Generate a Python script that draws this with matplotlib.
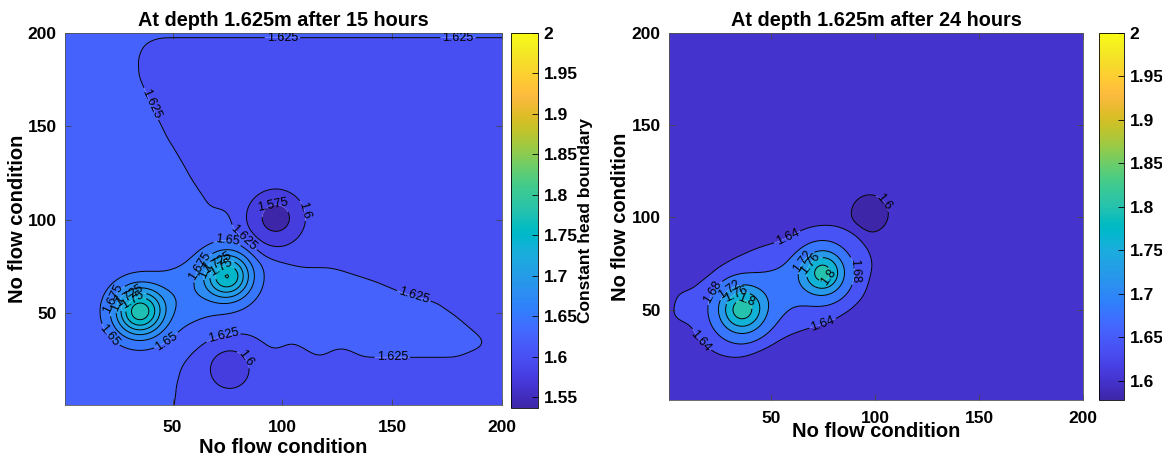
import numpy as np
import matplotlib
matplotlib.use("Agg")
import matplotlib.pyplot as plt
from matplotlib.colors import LinearSegmentedColormap, Normalize
from matplotlib.cm import ScalarMappable
from matplotlib.path import Path

plt.rcParams['font.family'] = ['Liberation Sans', 'DejaVu Sans']

# ---------------- parula colormap (MATLAB) ----------------
parula_rgb = [
    [0.2422, 0.1504, 0.6603], [0.2504, 0.1650, 0.7076], [0.2578, 0.1818, 0.7511], [0.2647, 0.1978, 0.7952],
    [0.2706, 0.2147, 0.8364], [0.2751, 0.2342, 0.8710], [0.2783, 0.2559, 0.8991], [0.2803, 0.2782, 0.9221],
    [0.2813, 0.3006, 0.9414], [0.2810, 0.3228, 0.9579], [0.2795, 0.3447, 0.9717], [0.2760, 0.3667, 0.9829],
    [0.2699, 0.3892, 0.9906], [0.2602, 0.4123, 0.9952], [0.2440, 0.4358, 0.9988], [0.2206, 0.4603, 0.9973],
    [0.1963, 0.4847, 0.9892], [0.1834, 0.5074, 0.9798], [0.1786, 0.5289, 0.9682], [0.1764, 0.5499, 0.9520],
    [0.1687, 0.5703, 0.9359], [0.1540, 0.5902, 0.9218], [0.1460, 0.6091, 0.9079], [0.1380, 0.6276, 0.8973],
    [0.1248, 0.6459, 0.8883], [0.1113, 0.6635, 0.8763], [0.0952, 0.6798, 0.8598], [0.0689, 0.6948, 0.8394],
    [0.0297, 0.7082, 0.8163], [0.0036, 0.7203, 0.7917], [0.0067, 0.7312, 0.7660], [0.0433, 0.7411, 0.7394],
    [0.0964, 0.7500, 0.7120], [0.1408, 0.7584, 0.6842], [0.1717, 0.7670, 0.6554], [0.1938, 0.7758, 0.6251],
    [0.2161, 0.7843, 0.5923], [0.2470, 0.7918, 0.5567], [0.2906, 0.7973, 0.5188], [0.3406, 0.8008, 0.4789],
    [0.3909, 0.8029, 0.4354], [0.4456, 0.8024, 0.3909], [0.5044, 0.7993, 0.3480], [0.5616, 0.7942, 0.3045],
    [0.6174, 0.7876, 0.2612], [0.6720, 0.7793, 0.2227], [0.7242, 0.7698, 0.1910], [0.7738, 0.7598, 0.1646],
    [0.8203, 0.7498, 0.1535], [0.8634, 0.7406, 0.1596], [0.9035, 0.7330, 0.1774], [0.9393, 0.7288, 0.2100],
    [0.9728, 0.7298, 0.2394], [0.9956, 0.7434, 0.2371], [0.9970, 0.7659, 0.2199], [0.9952, 0.7893, 0.2028],
    [0.9892, 0.8136, 0.1885], [0.9786, 0.8386, 0.1766], [0.9676, 0.8639, 0.1643], [0.9610, 0.8890, 0.1537],
    [0.9597, 0.9135, 0.1423], [0.9628, 0.9373, 0.1265], [0.9691, 0.9606, 0.1064], [0.9769, 0.9839, 0.0805]]
cmap = LinearSegmentedColormap.from_list("parula", parula_rgb, N=256)

# ---------------- text ----------------
titles = ["At depth 1.625m after 15 hours", "At depth 1.625m after 24 hours"]
axis_label = "No flow condition"
cbar_label = "Constant head boundary"
axis_ticks = [50, 100, 150, 200]

# ---------------- grid ----------------
grid_x = np.arange(1, 201)
grid_y = np.arange(1, 201)

# ---------------- left panel (15 h) ----------------
left_base = 1.612      # head outside the plume
left_plateau = 1.638   # head inside the plume
# outline of the 1.625 m contour (plume)
left_plume_x = [-20, 230, 230, 44, 37, 34, 35, 38, 43, 48, 54, 58, 62, 66, 68, 72, 76, 78, 83, 89, 94,
                108, 124, 140, 155, 170, 182, 190, 194, 189, 178, 147, 137, 131, 126, 121, 117, 110,
                104, 100, 96, 90, 84, 76, 66, 59, 54, 52, 51, 51, -20]
left_plume_y = [230, 230, 197.5, 197.5, 194, 186, 176, 168, 155, 143, 132, 123, 116, 109, 105, 107, 104,
                95, 89, 82, 79.5, 75, 74, 68, 61, 56, 46, 37.5, 34, 31, 26, 26, 26, 30, 32, 29, 26, 31,
                35, 32, 29.5, 35, 39, 38.6, 35, 28.6, 21, 12, 3.5, -30, -30]
# sources (+) and sinks (-)
left_src_x = [35, 75, 56, 97, 76]
left_src_y = [51, 70, 60, 101, 20]
left_src_amp = [0.152, 0.135, 0.025, -0.05, -0.022]
left_src_sigma = [8.0, 7.6, 10.0, 8.0, 8.0]
left_levels = [1.575, 1.6, 1.625, 1.65, 1.675, 1.7, 1.725, 1.75, 1.775]
left_clim = (1.537, 2.0)
left_cticks = [1.55, 1.6, 1.65, 1.7, 1.75, 1.8, 1.85, 1.9, 1.95, 2.0]
left_labels = {
    1.575: [(96, 107)],
    1.6: [(107, 104), (82, 25)],
    1.625: [(100, 198), (180, 198), (40, 162), (82, 90), (160, 60), (150, 27), (73, 38)],
    1.65: [(20, 37), (48, 34), (75, 90)],
    1.675: [(24, 57), (63, 75)],
    1.7: [(27, 55), (66, 73)],
    1.725: [(31, 58), (71, 76)],
    1.75: [(33, 55), (73, 73)],
}

# ---------------- right panel (24 h) ----------------
right_base = 1.62
right_plateau = 1.66
# outline of the 1.64 m contour
right_plume_x = [3, 5, 12, 19, 26.5, 35, 43, 55, 66, 74, 80.7, 89.7, 94, 97, 98.5, 98, 95, 92, 88, 82,
                 75, 67, 59, 53, 48, 42, 35.6, 30, 24.7, 19, 15.7, 13, 12, 6.7, 3, 2]
right_plume_y = [50, 59, 61, 67, 73.6, 79, 82.7, 87, 93.6, 95.5, 95.5, 93.6, 89, 82.7, 76, 70, 59, 54,
                 50, 46, 42, 40, 37, 33.5, 30, 27, 24.5, 24.5, 26, 30, 33.6, 38, 42, 43.6, 46, 48]
right_src_x = [36, 75, 55, 97.5]
right_src_y = [50, 70, 61, 102]
right_src_amp = [0.16, 0.155, 0.028, -0.045]
right_src_sigma = [8.0, 7.5, 10.0, 7.0]
right_levels = [1.6, 1.64, 1.68, 1.72, 1.76, 1.8]
right_clim = (1.578, 2.0)
right_cticks = [1.6, 1.65, 1.7, 1.75, 1.8, 1.85, 1.9, 1.95, 2.0]
right_labels = {
    1.6: [(104, 108)],
    1.64: [(58, 89), (75, 42), (17, 34)],
    1.68: [(23, 59), (90, 71)],
    1.72: [(30, 61), (66, 76)],
    1.76: [(33, 59), (70, 74)],
    1.8: [(38, 55), (76, 69)],
}

X, Y = np.meshgrid(grid_x, grid_y)
PAD = 40


def smooth_indicator(px, py, blur=3.0):
    ex = np.arange(grid_x[0] - PAD, grid_x[-1] + PAD + 1)
    ey = np.arange(grid_y[0] - PAD, grid_y[-1] + PAD + 1)
    EX, EY = np.meshgrid(ex, ey)
    inside = Path(np.column_stack([px, py])).contains_points(
        np.column_stack([EX.ravel(), EY.ravel()])).reshape(EX.shape).astype(float)
    k = np.arange(-12, 13)
    kern = np.exp(-k ** 2 / (2 * blur ** 2))
    kern /= kern.sum()
    m = np.apply_along_axis(lambda r: np.convolve(r, kern, mode='same'), 1, inside)
    m = np.apply_along_axis(lambda c: np.convolve(c, kern, mode='same'), 0, m)
    return m[PAD:-PAD, PAD:-PAD]


def head_field(base, plateau, px, py, sx, sy, amp, sig):
    Z = base + (plateau - base) * smooth_indicator(px, py)
    for x0, y0, a, s in zip(sx, sy, amp, sig):
        Z = Z + a * np.exp(-(X - x0) ** 2 / (2 * s * s) - (Y - y0) ** 2 / (2 * (1.15 * s) ** 2))
    return Z


Z_left = head_field(left_base, left_plateau, left_plume_x, left_plume_y,
                    left_src_x, left_src_y, left_src_amp, left_src_sigma)
Z_right = head_field(right_base, right_plateau, right_plume_x, right_plume_y,
                     right_src_x, right_src_y, right_src_amp, right_src_sigma)

W, H = 1162, 461
fig = plt.figure(figsize=(W / 100, H / 100), dpi=100)


def px_rect(l, t, r, b):
    return [l / W, 1 - b / H, (r - l) / W, (b - t) / H]


ax_l = fig.add_axes(px_rect(65, 33, 502, 405))
cax_l = fig.add_axes(px_rect(511, 33, 538, 408))
ax_r = fig.add_axes(px_rect(669, 33, 1083, 400))
cax_r = fig.add_axes(px_rect(1099, 33, 1124, 400))


def draw(ax, cax, Z, levels, clim, cticks, labels, title, ylab_x, xlab_y, xpad, show_cbar_label):
    norm = Normalize(*clim)
    fill_levels = [min(Z.min(), clim[0]) - 1] + levels + [max(Z.max(), clim[1]) + 1]
    colors = [cmap(norm(clim[0]))] + [cmap(norm(L)) for L in levels]
    ax.contourf(X, Y, Z, levels=fill_levels, colors=colors, antialiased=True)
    for L in levels:
        if not (Z.min() < L < Z.max()):
            continue
        cs = ax.contour(X, Y, Z, levels=[L], colors='k', linewidths=0.7)
        if L in labels:
            ax.clabel(cs, manual=labels[L], inline=True, fontsize=9, fmt='%g',
                      inline_spacing=2)
    ax.set_xlim(1, 200)
    ax.set_ylim(1, 200)
    ax.set_xticks(axis_ticks)
    ax.set_yticks(axis_ticks)
    ax.tick_params(direction='in', length=4, width=0.6, labelsize=12.5, color='#444444',
                   top=True, right=True)
    ax.tick_params(axis='x', pad=xpad)
    ax.tick_params(axis='y', pad=6)
    for t in ax.get_xticklabels() + ax.get_yticklabels():
        t.set_fontweight('bold')
    for s in ax.spines.values():
        s.set_linewidth(0.6)
        s.set_color('#555555')
    ax.set_title(title, fontsize=14.3, fontweight='bold', pad=5)
    ax.set_xlabel(axis_label, fontsize=14.5, fontweight='bold')
    ax.set_ylabel(axis_label, fontsize=14.5, fontweight='bold')
    ax.yaxis.set_label_coords(ylab_x, 0.5)
    ax.xaxis.set_label_coords(0.5, xlab_y)

    sm = ScalarMappable(norm=norm, cmap=cmap)
    cb = fig.colorbar(sm, cax=cax, ticks=cticks)
    cb.ax.set_yticklabels(['%g' % v for v in cticks])
    cb.ax.tick_params(direction='in', length=4, width=0.6, labelsize=12.5, pad=4)
    for t in cb.ax.get_yticklabels():
        t.set_fontweight('bold')
    cb.outline.set_linewidth(0.6)
    if show_cbar_label:
        cb.set_label(cbar_label, fontsize=12.5, fontweight='bold', labelpad=0)


draw(ax_l, cax_l, Z_left, left_levels, left_clim, left_cticks, left_labels, titles[0],
     -0.087, -0.088, 11, True)
draw(ax_r, cax_r, Z_right, right_levels, right_clim, right_cticks, right_labels, titles[1],
     -0.094, -0.06, 8, False)

fig.savefig("out.png", dpi=100)
